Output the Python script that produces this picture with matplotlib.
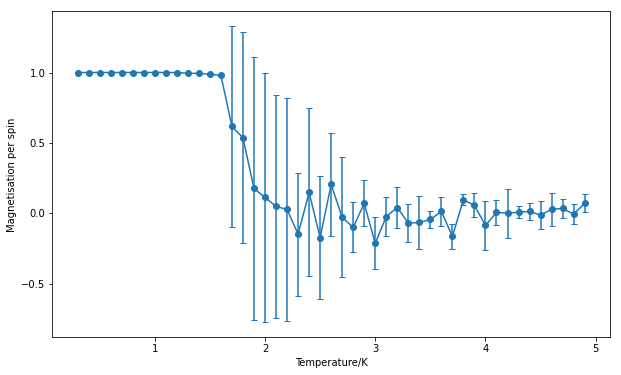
import matplotlib
matplotlib.use("Agg")
import matplotlib.pyplot as plt

temperature = [0.3, 0.4, 0.5, 0.6, 0.7, 0.8, 0.9, 1.0, 1.1, 1.2, 1.3, 1.4, 1.5, 1.6,
               1.7, 1.8, 1.9, 2.0, 2.1, 2.2, 2.3, 2.4, 2.5, 2.6, 2.7, 2.8, 2.9, 3.0,
               3.1, 3.2, 3.3, 3.4, 3.5, 3.6, 3.7, 3.8, 3.9, 4.0, 4.1, 4.2, 4.3, 4.4,
               4.5, 4.6, 4.7, 4.8, 4.9]
magnetisation = [1.0, 1.0, 1.0, 1.0, 1.0, 1.0, 1.0, 1.0, 1.0, 1.0, 0.994, 0.994, 0.988, 0.979,
                 0.617, 0.537, 0.177, 0.113, 0.050, 0.028, -0.147, 0.149, -0.172, 0.206, -0.028, -0.099, 0.071, -0.212,
                 -0.022, 0.042, -0.069, -0.064, -0.043, 0.014, -0.163, 0.097, 0.057, -0.085, 0.007, 0.002, 0.009, 0.014,
                 -0.012, 0.030, 0.035, -0.005, 0.071]
errors = [0.0, 0.0, 0.0, 0.0, 0.0, 0.0, 0.0, 0.0, 0.0, 0.0, 0.003, 0.003, 0.004, 0.005,
          0.712, 0.747, 0.932, 0.887, 0.790, 0.788, 0.437, 0.596, 0.436, 0.368, 0.426, 0.177, 0.163, 0.185,
          0.137, 0.144, 0.134, 0.187, 0.057, 0.105, 0.086, 0.039, 0.085, 0.175, 0.091, 0.174, 0.043, 0.060,
          0.099, 0.117, 0.066, 0.071, 0.064]

fig = plt.figure(figsize=(621 / 72, 375 / 72), dpi=72)
ax = fig.add_axes([0.0842, 0.1005, 0.8981, 0.8693])
ax.errorbar(temperature, magnetisation, yerr=errors, marker='o', color='#1f77b4',
            capsize=3, markersize=6, linewidth=1.5)
ax.set_xlabel('Temperature/K')
ax.set_ylabel('Magnetisation per spin')
ax.set_xticks([1, 2, 3, 4, 5])
ax.set_yticks([-0.5, 0.0, 0.5, 1.0])
fig.savefig('out.png', dpi=72)
